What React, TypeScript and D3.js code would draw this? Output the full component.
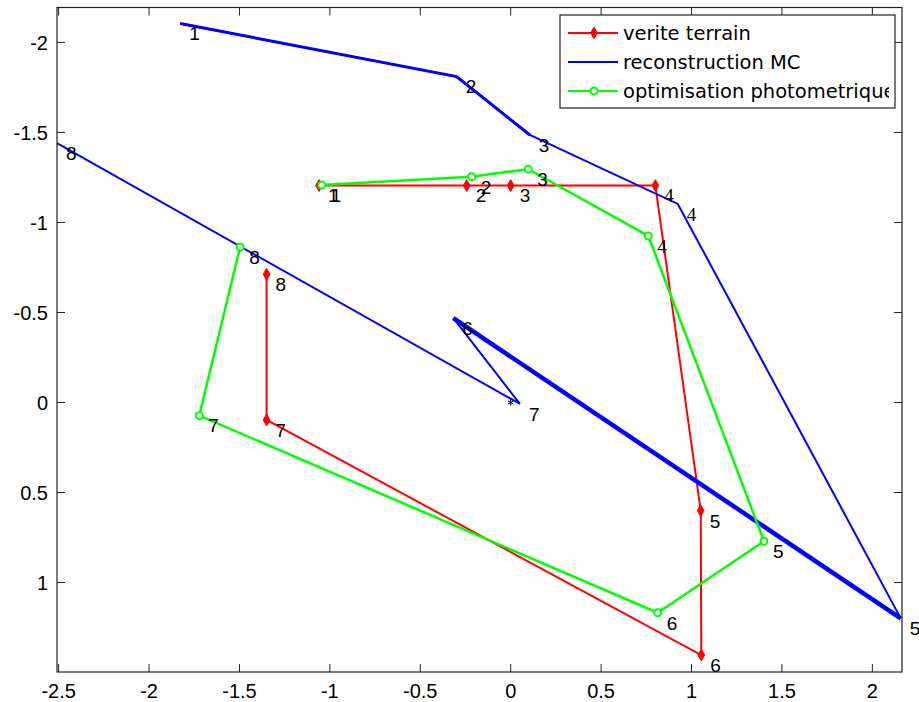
import React from "react";
import * as d3 from "d3";

const W = 919;
const H = 702;

const xTicks = [-2.5, -2, -1.5, -1, -0.5, 0, 0.5, 1, 1.5, 2];
const yTicks = [-2, -1.5, -1, -0.5, 0, 0.5, 1];
const pointLabels = ["1", "2", "3", "4", "5", "6", "7", "8"];

const redX = [-1.06, -0.243, 0.0, 0.8, 1.051, 1.054, -1.35, -1.35];
const redY = [-1.205, -1.205, -1.205, -1.205, 0.601, 1.403, 0.097, -0.712];

const blueX = [-1.828, -0.299, 0.106, 0.924, 2.157, -0.317, 0.051, -2.509];
const blueY = [-2.105, -1.81, -1.486, -1.103, 1.199, -0.468, 0.008, -1.44];

const greenX = [-1.045, -0.216, 0.097, 0.761, 1.401, 0.813, -1.722, -1.496];
const greenY = [-1.208, -1.254, -1.296, -0.925, 0.771, 1.168, 0.073, -0.864];

const legendNames = ["verite terrain", "reconstruction MC", "optimisation photometrique"];

const xDomain = [-2.509, 2.164];
const yDomain = [-2.194, 1.497];

const plot = { left: 57, right: 902, top: 7.5, bottom: 672 };

const FONT = "'Liberation Sans', Arial, Helvetica, sans-serif";
const LEGEND_FONT = "'DejaVu Sans', 'Liberation Sans', sans-serif";

export default function App() {
  const x = d3.scaleLinear().domain(xDomain).range([plot.left, plot.right]);
  const y = d3.scaleLinear().domain(yDomain).range([plot.top, plot.bottom]);

  const toPts = (xs: number[], ys: number[]) => xs.map((v, i) => [v, ys[i]] as [number, number]);
  const line = d3
    .line<[number, number]>()
    .x((d) => x(d[0]))
    .y((d) => y(d[1]));

  const red = toPts(redX, redY);
  const blue = toPts(blueX, blueY);
  const green = toPts(greenX, greenY);

  const diamond = d3.symbol(d3.symbolDiamond, 40)();
  const asterisk = d3.symbol(d3.symbolAsterisk, 30)();

  const tickLen = 8;
  const axisColor = "#222";

  const labelText = (pts: [number, number][], key: string) =>
    pts.map((p, i) => (
      <text
        key={key + i}
        x={x(p[0]) + 9}
        y={y(p[1]) + 10}
        dy="0.36em"
        fontSize={19}
        fontFamily={pointLabels[i] === "4" ? "'Liberation Serif', 'DejaVu Serif', serif" : FONT}
        fill="#000"
      >
        {pointLabels[i]}
      </text>
    ));

  const legendBox = { x: 560, y: 15, w: 335, h: 93 };
  const legendRows = [33, 62, 91];
  const legendColors = ["#ff0000", "#0000ff", "#00ff00"];

  return (
    <div style={{ position: "absolute", left: 0, top: 0, width: W, height: H, background: "#fff" }}>
      <svg width={W} height={H} style={{ display: "block" }}>
        <defs>
          <clipPath id="legclip">
            <rect x={legendBox.x} y={legendBox.y} width={legendBox.w - 6} height={legendBox.h} />
          </clipPath>
        </defs>
        <rect x={0} y={0} width={W} height={H} fill="#fff" />

        {/* ticks */}
        {xTicks.map((t) => (
          <g key={"xt" + t}>
            <line x1={x(t)} x2={x(t)} y1={plot.bottom} y2={plot.bottom - tickLen} stroke={axisColor} strokeWidth={1} />
            <line x1={x(t)} x2={x(t)} y1={plot.top} y2={plot.top + tickLen} stroke={axisColor} strokeWidth={1} />
            <text x={x(t)} y={698} textAnchor="middle" fontSize={20} fontFamily={FONT} fill="#000">
              {String(t)}
            </text>
          </g>
        ))}
        {yTicks.map((t) => (
          <g key={"yt" + t}>
            <line x1={plot.left} x2={plot.left + tickLen} y1={y(t)} y2={y(t)} stroke={axisColor} strokeWidth={1} />
            <line x1={plot.right} x2={plot.right - tickLen} y1={y(t)} y2={y(t)} stroke={axisColor} strokeWidth={1} />
            <text x={48} y={y(t)} dy="0.36em" textAnchor="end" fontSize={20} fontFamily={FONT} fill="#000">
              {String(t)}
            </text>
          </g>
        ))}

        {/* series */}
        <path d={line(red) || ""} fill="none" stroke="#ff0000" strokeWidth={2} />
        {red.map((p, i) => (
          <path key={"rm" + i} d={diamond || ""} transform={`translate(${x(p[0])},${y(p[1])})`} fill="#ff0000" stroke="#ff0000" strokeWidth={1} />
        ))}

        <path d={line(blue) || ""} fill="none" stroke="#0000ff" strokeWidth={2} />
        <path d={line(blue.slice(0, 3)) || ""} fill="none" stroke="#0000ff" strokeWidth={3} />
        <path d={line(blue.slice(4, 6)) || ""} fill="none" stroke="#0000ff" strokeWidth={4.5} />

        <path d={line(green) || ""} fill="none" stroke="#00ff00" strokeWidth={2.5} />
        {green.map((p, i) => (
          <circle key={"gm" + i} cx={x(p[0])} cy={y(p[1])} r={3.5} fill="#fff" stroke="#00ff00" strokeWidth={2} />
        ))}

        <path d={asterisk || ""} transform={`translate(${x(0)},${y(0)})`} fill="none" stroke="#000" strokeWidth={1} />

        {labelText(red, "rl")}
        {labelText(blue, "bl")}
        {labelText(green, "gl")}

        {/* axes box */}
        <rect
          x={plot.left}
          y={plot.top}
          width={plot.right - plot.left}
          height={plot.bottom - plot.top}
          fill="none"
          stroke={axisColor}
          strokeWidth={1.2}
        />

        {/* legend */}
        <rect x={legendBox.x} y={legendBox.y} width={legendBox.w} height={legendBox.h} fill="#fff" stroke={axisColor} strokeWidth={1.2} />
        {legendNames.map((name, i) => (
          <g key={"lg" + i}>
            <line x1={568} x2={618} y1={legendRows[i]} y2={legendRows[i]} stroke={legendColors[i]} strokeWidth={2} />
            {i === 0 && (
              <path d={diamond || ""} transform={`translate(594,${legendRows[i]})`} fill="#ff0000" stroke="#ff0000" />
            )}
            {i === 2 && <circle cx={594} cy={legendRows[i]} r={3.5} fill="#fff" stroke="#00ff00" strokeWidth={2} />}
            <text
              x={623}
              y={legendRows[i]}
              dy="0.36em"
              fontSize={19.5}
              fontFamily={LEGEND_FONT}
              fill="#000"
              clipPath="url(#legclip)"
            >
              {name}
            </text>
          </g>
        ))}
      </svg>
    </div>
  );
}
